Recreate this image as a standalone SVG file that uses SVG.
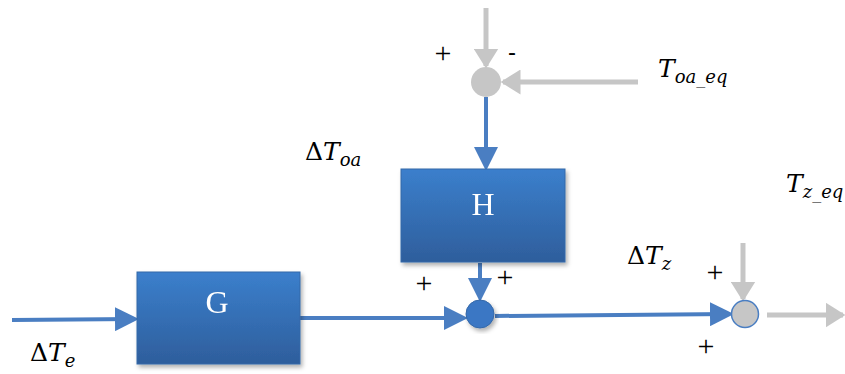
<svg xmlns="http://www.w3.org/2000/svg" width="845" height="374" viewBox="0 0 845 374">
<style>
.blk{stroke:#3568a8;stroke-width:1}
.bl{fill:none;stroke:#4a7ec2;stroke-width:4}
.gr{fill:none;stroke:#c6c6c6;stroke-width:5}
.lbl{font-family:"Liberation Serif",serif;font-size:32px;fill:#fff;text-anchor:middle}
.m{font-family:"DejaVu Serif","Liberation Serif",serif;font-style:italic;font-size:25px;fill:#000}
.mu{font-family:"DejaVu Serif","Liberation Serif",serif;font-size:25px;fill:#000}
.s{font-size:18px}
.pm{font-family:"Liberation Serif",serif;font-size:30px;fill:#000;text-anchor:middle}
.mn{font-family:"Liberation Sans",sans-serif;font-size:24px;fill:#000;text-anchor:middle}
</style>
<defs>
<linearGradient id="g" x1="0" y1="0" x2="0" y2="1">
<stop offset="0" stop-color="#3b7fcc"/>
<stop offset="1" stop-color="#2e5e9c"/>
</linearGradient>
<marker id="ab" markerWidth="6" markerHeight="6" refX="5" refY="3" orient="auto" markerUnits="strokeWidth"><path d="M0,0 L6,3 L0,6 z" fill="#4a7ec2"/></marker>
<marker id="ag" markerWidth="4" markerHeight="5" refX="3.5" refY="2.5" orient="auto" markerUnits="strokeWidth"><path d="M0,0 L4,2.5 L0,5 z" fill="#c6c6c6"/></marker>
<filter id="sh" x="-10%" y="-10%" width="125%" height="130%"><feDropShadow dx="2" dy="3" stdDeviation="2" flood-color="#000" flood-opacity="0.3"/></filter>
</defs>
<g id="connectors">
<line class="gr" x1="486" y1="8" x2="486" y2="66" marker-end="url(#ag)"/>
<line class="gr" x1="638" y1="82" x2="503" y2="82" marker-end="url(#ag)"/>
<line class="bl" x1="486" y1="97" x2="486" y2="167" marker-end="url(#ab)"/>
<line class="bl" x1="480" y1="263" x2="480" y2="298" marker-end="url(#ab)"/>
<line class="bl" x1="12" y1="320" x2="135" y2="319" marker-end="url(#ab)"/>
<line class="bl" x1="300" y1="318" x2="464" y2="318" marker-end="url(#ab)"/>
<line class="bl" x1="495" y1="316" x2="730" y2="314" marker-end="url(#ab)"/>
<line class="gr" x1="743" y1="243" x2="743" y2="299" marker-end="url(#ag)"/>
<line class="gr" x1="767" y1="315" x2="843" y2="315" marker-end="url(#ag)"/>
</g>
<g id="sum1">
<circle cx="486" cy="82" r="15" fill="#c6c6c6"/>
<text class="pm" x="443" y="63">+</text>
<text class="mn" x="512" y="60">-</text>
</g>
<g id="H" filter="url(#sh)">
<rect class="blk" x="401" y="169" width="164" height="93" fill="url(#g)"/>
<text class="lbl" x="483" y="215">H</text>
</g>
<g id="G" filter="url(#sh)">
<rect class="blk" x="137" y="272" width="163" height="92" fill="url(#g)"/>
<text class="lbl" x="217" y="313">G</text>
</g>
<g id="sum2" filter="url(#sh)">
<circle cx="480" cy="314" r="14" fill="#3a77c4" stroke="#3568a8"/>
</g>
<g id="sum3">
<circle cx="745" cy="314" r="13.5" fill="#c6c6c6" stroke="#4a7ec2" stroke-width="1.5"/>
</g>
<g id="labels">
<text class="pm" x="424" y="293">+</text>
<text class="pm" x="505" y="287">+</text>
<text class="pm" x="715" y="282">+</text>
<text class="pm" x="706" y="356">+</text>
<text class="m" x="658" y="77">T<tspan class="s" dy="6">oa_eq</tspan></text>
<text class="mu" x="305" y="160">Δ<tspan class="m">T</tspan><tspan class="m s" dy="6">oa</tspan></text>
<text class="m" x="786" y="192">T<tspan class="s" dy="6">z_eq</tspan></text>
<text class="mu" x="627" y="264">Δ<tspan class="m">T</tspan><tspan class="m s" dy="6">z</tspan></text>
<text class="mu" x="30" y="361">Δ<tspan class="m">T</tspan><tspan class="m s" dy="6">e</tspan></text>
</g>
</svg>
